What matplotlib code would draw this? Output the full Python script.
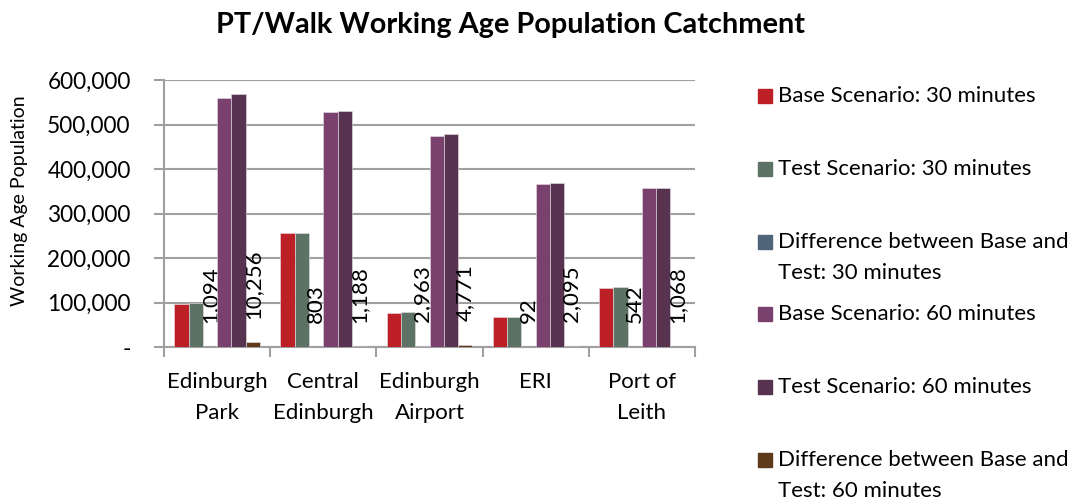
import numpy as np
import matplotlib.pyplot as plt
from matplotlib.patches import Rectangle
from matplotlib.ticker import FuncFormatter, FixedLocator

plt.rcParams['font.family'] = ['Lato', 'DejaVu Sans']

locations = ['Edinburgh\nPark', 'Central\nEdinburgh', 'Edinburgh\nAirport', 'ERI', 'Port of\nLeith']
base_30 = [97000, 255500, 76000, 68000, 133300]
test_30 = [98094, 256303, 78963, 68092, 133842]
diff_30 = [1094, 803, 2963, 92, 542]
base_60 = [559000, 528800, 475000, 366000, 356600]
test_60 = [569256, 529988, 479771, 368095, 357668]
diff_60 = [10256, 1188, 4771, 2095, 1068]

series = [
    ('Base Scenario: 30 minutes', base_30, '#BC1F26'),
    ('Test Scenario: 30 minutes', test_30, '#5B7264'),
    ('Difference between Base and\nTest: 30 minutes', diff_30, '#4F6478'),
    ('Base Scenario: 60 minutes', base_60, '#7B416E'),
    ('Test Scenario: 60 minutes', test_60, '#58334F'),
    ('Difference between Base and\nTest: 60 minutes', diff_60, '#5E3A1B'),
]

fig = plt.figure(figsize=(10.7, 5.01), dpi=100)
ax = fig.add_axes([164 / 1070, 1 - 347 / 501, 531 / 1070, 267 / 501])

x = np.arange(len(locations))
width = 0.1346
offsets = (np.arange(len(series)) - 2.5) * width
grid_col = '#A0A0A0'

for (label, vals, col), off in zip(series, offsets):
    bars = ax.bar(x + off, vals, width, color=col, edgecolor='#E6E0E6',
                  linewidth=0.4, zorder=3)
    if label.startswith('Difference'):
        for b, v in zip(bars, vals):
            ax.annotate(f'{v:,}', (b.get_x() + b.get_width() / 2, v),
                        xytext=(0, 17), textcoords='offset points',
                        rotation=90, ha='center', va='bottom', fontsize=16)

ax.set_xlim(-0.5, len(locations) - 0.5)
ax.set_ylim(0, 600000)
ax.set_yticks(np.arange(0, 600001, 100000))
ax.yaxis.set_major_formatter(FuncFormatter(lambda v, p: '-' if v == 0 else f'{int(v):,}'))
ax.yaxis.grid(True, color=grid_col, linewidth=1.5, zorder=0)
ax.set_axisbelow(True)

ax.set_xticks(x)
ax.set_xticklabels(locations, fontsize=16, linespacing=1.7)
ax.xaxis.set_minor_locator(FixedLocator(np.arange(-0.5, len(locations), 1)))
ax.tick_params(axis='x', which='major', length=0, pad=18)
ax.tick_params(axis='x', which='minor', length=7, width=1.5, color=grid_col)
ax.tick_params(axis='y', length=7, width=1.5, color=grid_col, pad=17, labelsize=16.3)

for s in ['top', 'right']:
    ax.spines[s].set_visible(False)
for s in ['left', 'bottom']:
    ax.spines[s].set_color(grid_col)
    ax.spines[s].set_linewidth(1.5)

ax.set_ylabel('Working Age Population', fontsize=14, va='center')
ax.yaxis.set_label_coords((20 - 164) / 531, (347 - 201) / 267)
fig.text(511 / 1070, 1 - 25 / 501, 'PT/Walk Working Age Population Catchment',
         ha='center', va='center', fontsize=20.8, fontweight='bold')

# legend entries stacked down the right side
for i, (label, vals, col) in enumerate(series):
    yc = 1 - (96 + i * 72.8) / 501
    fig.add_artist(Rectangle((758 / 1070, yc - 7 / 501), 14 / 1070, 14 / 501,
                             transform=fig.transFigure, color=col))
    fig.text(778 / 1070, yc + 10 / 501, label, ha='left', va='top',
             fontsize=16, linespacing=1.7)

fig.savefig('out.png', dpi=100)
